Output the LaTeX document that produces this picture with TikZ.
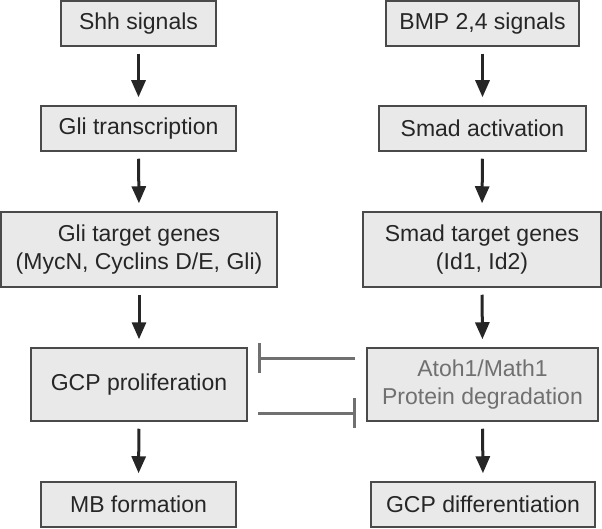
\documentclass[tikz,border=0pt]{standalone}
\usepackage{fontspec}
\setmainfont{Liberation Sans}
\usetikzlibrary{arrows.meta}
\definecolor{boxfill}{HTML}{E9E9E9}
\definecolor{boxline}{HTML}{4A4A4A}
\definecolor{inhgray}{HTML}{707070}
\begin{document}
\begin{tikzpicture}[x=1pt,y=1pt,font=\fontsize{23}{28.5}\selectfont,
  box/.style={draw=boxline,fill=boxfill,line width=1.5pt,text=black!85,align=center,inner sep=0pt},
  act/.style={line width=3pt,black!85,-{Triangle[length=17pt,width=14pt]},shorten <=7pt,shorten >=8pt},
  inhibit/.style={line width=3pt,inhgray,-{Bar[width=30pt]}}]
\useasboundingbox (0,0) rectangle (602,528);
% Shh pathway
\node[box,minimum width=155pt,minimum height=45pt] (shh) at (138.5,504.5) {Shh signals};
\node[box,minimum width=195pt,minimum height=45pt] (gli) at (138.5,399.5) {Gli transcription};
\node[box,minimum width=276pt,minimum height=75pt] (glitarget) at (139,278.5) {Gli target genes\\(MycN, Cyclins D/E, Gli)};
\node[box,minimum width=216pt,minimum height=73pt] (gcpprol) at (139,143.5) {GCP proliferation};
\node[box,minimum width=195pt,minimum height=45pt] (mb) at (138.5,23.5) {MB formation};
% BMP pathway
\node[box,minimum width=193pt,minimum height=45pt] (bmp) at (482.5,504.5) {BMP 2,4 signals};
\node[box,minimum width=207pt,minimum height=45pt] (smad) at (482.5,399.5) {Smad activation};
\node[box,minimum width=238pt,minimum height=75pt] (smadtarget) at (482,278.5) {Smad target genes\\(Id1, Id2)};
\node[box,minimum width=231pt,minimum height=73pt,text=inhgray] (atoh) at (482.5,143.5) {Atoh1/Math1\\Protein degradation};
\node[box,minimum width=224pt,minimum height=45pt] (gcpdiff) at (483,23.5) {GCP differentiation};
\foreach \a/\b in {shh/gli,gli/glitarget,glitarget/gcpprol,gcpprol/mb,bmp/smad,smad/smadtarget,smadtarget/atoh,atoh/gcpdiff}
  \draw[act] (\a.south) -- (\b.north);
\draw[inhibit,shorten <=11pt,shorten >=10pt] ([yshift=26.5pt]atoh.west) -- ([yshift=26.5pt]gcpprol.east);
\draw[inhibit,shorten <=10pt,shorten >=10pt] ([yshift=-28.5pt]gcpprol.east) -- ([yshift=-28.5pt]atoh.west);
\end{tikzpicture}
\end{document}
